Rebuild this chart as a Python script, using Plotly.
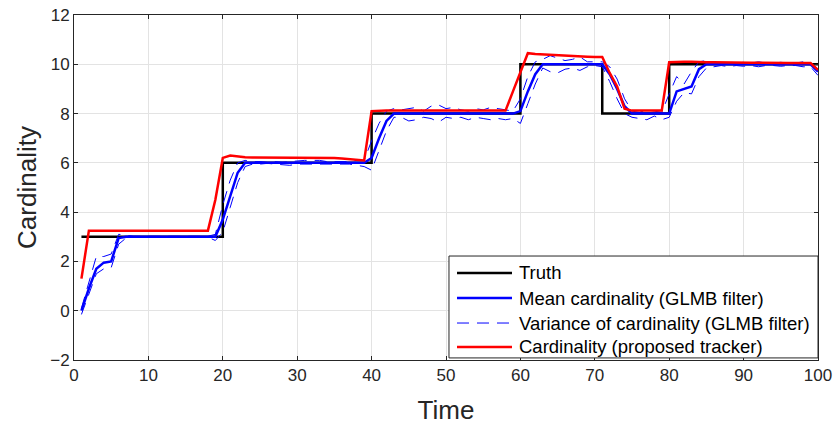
import plotly.graph_objects as go

time = list(range(1, 101))

truth = [3]*19 + [6]*20 + [8]*20 + [10]*11 + [8]*9 + [10]*21

mean_glmb = [
    0.0, 0.9, 1.7, 1.95, 2.0, 2.95, 3.0, 3.0, 3.0, 3.0,
    3.0, 3.0, 3.0, 3.0, 3.0, 3.0, 3.0, 3.0, 3.0, 3.7,
    4.7, 5.6, 6.0, 6.0, 6.0, 6.0, 6.0, 6.0, 6.0, 6.0,
    6.0, 6.0, 6.0, 6.0, 6.0, 6.0, 6.0, 6.0, 6.0, 6.2,
    7.0, 7.7, 8.0, 8.0, 8.0, 8.0, 8.0, 8.0, 8.0, 8.0,
    8.0, 8.0, 8.0, 8.0, 8.0, 8.0, 8.0, 8.0, 8.0, 8.1,
    8.9, 9.6, 10.0, 10.0, 10.0, 10.0, 10.0, 10.0, 10.0, 10.0,
    10.0, 9.6, 9.0, 8.3, 8.0, 8.0, 8.0, 8.0, 8.0, 8.0,
    8.9, 9.0, 9.1, 9.8, 10.0, 10.0, 10.0, 10.0, 10.0, 10.0,
    10.0, 10.0, 10.0, 10.0, 10.0, 10.0, 10.0, 10.0, 10.0, 9.7,
]

var_upper = [
    0.1, 1.1, 2.2, 2.2, 2.3, 3.1, 3.05, 3.02, 3.02, 3.02,
    3.02, 3.02, 3.02, 3.02, 3.02, 3.02, 3.02, 3.02, 3.1, 4.3,
    5.3, 6.0, 6.1, 6.05, 6.05, 6.02, 6.05, 6.02, 6.05, 6.08,
    6.1, 6.1, 6.1, 6.05, 6.05, 6.08, 6.05, 6.1, 6.1, 6.9,
    7.6, 8.1, 8.2, 8.15, 8.2, 8.25, 8.1, 8.3, 8.35, 8.2,
    8.25, 8.15, 8.1, 8.2, 8.15, 8.25, 8.2, 8.15, 8.1, 8.6,
    9.5, 10.1, 10.2, 10.35, 10.25, 10.15, 10.2, 10.3, 10.1, 10.1,
    10.1, 9.9, 9.4, 8.6, 8.1, 8.05, 8.15, 8.1, 8.05, 8.8,
    9.5, 9.2, 9.7, 10.1, 10.15, 10.1, 10.05, 10.1, 10.05, 10.08,
    10.05, 10.1, 10.05, 10.05, 10.08, 10.05, 10.05, 10.1, 10.05, 9.8,
]

var_lower = [
    -0.15, 0.7, 1.5, 1.7, 1.75, 2.7, 2.95, 2.98, 2.98, 2.98,
    2.98, 2.98, 2.98, 2.98, 2.98, 2.98, 2.98, 2.98, 2.85, 3.2,
    4.2, 5.2, 5.85, 5.95, 5.95, 5.98, 5.95, 5.92, 5.9, 5.95,
    5.95, 5.92, 5.95, 5.95, 5.92, 5.95, 5.95, 5.9, 5.85, 5.7,
    6.5, 7.3, 7.85, 7.85, 7.7, 7.75, 7.85, 7.8, 7.65, 7.85,
    7.8, 7.85, 7.75, 7.85, 7.8, 7.75, 7.8, 7.75, 7.8, 7.6,
    8.4, 9.2, 9.85, 9.7, 9.65, 9.8, 9.85, 9.75, 9.9, 9.95,
    9.9, 9.3, 8.6, 8.0, 7.85, 7.8, 7.75, 7.9, 7.75, 7.85,
    8.5, 8.85, 8.8, 9.5, 9.85, 9.9, 9.95, 9.9, 9.95, 9.92,
    9.95, 9.9, 9.95, 9.95, 9.92, 9.95, 9.95, 9.9, 9.9, 9.55,
]

proposed = [
    1.3, 3.25, 3.25, 3.25, 3.25, 3.25, 3.25, 3.25, 3.25, 3.25,
    3.25, 3.25, 3.25, 3.25, 3.25, 3.25, 3.25, 3.25, 4.5, 6.2,
    6.3, 6.25, 6.23, 6.22, 6.22, 6.22, 6.22, 6.22, 6.22, 6.22,
    6.22, 6.21, 6.21, 6.2, 6.2, 6.18, 6.15, 6.12, 6.1, 8.1,
    8.12, 8.12, 8.12, 8.12, 8.12, 8.12, 8.12, 8.12, 8.12, 8.12,
    8.12, 8.12, 8.12, 8.12, 8.12, 8.12, 8.12, 8.12, 8.9, 9.7,
    10.45, 10.42, 10.4, 10.38, 10.36, 10.35, 10.33, 10.32, 10.31, 10.3,
    10.3, 9.65, 9.1, 8.2, 8.12, 8.12, 8.12, 8.12, 8.12, 10.08,
    10.1, 10.1, 10.1, 10.08, 10.08, 10.08, 10.07, 10.07, 10.07, 10.06,
    10.06, 10.06, 10.05, 10.05, 10.05, 10.05, 10.05, 10.05, 10.05, 9.77,
]

legend_labels = [
    "Truth",
    "Mean cardinality (GLMB filter)",
    "Variance of cardinality (GLMB filter)",
    "Cardinality (proposed tracker)",
]

x_ticks = [0, 10, 20, 30, 40, 50, 60, 70, 80, 90, 100]
y_ticks = [-2, 0, 2, 4, 6, 8, 10, 12]

styles = [
    dict(color="#000000", width=2.5),
    dict(color="#0000ff", width=2.5),
    dict(color="#0000ff", width=1, dash="12px,8px"),
    dict(color="#ff0000", width=2.5),
]

fig = go.Figure()
fig.add_trace(go.Scatter(x=time, y=truth, mode="lines", line_shape="hv",
                         name=legend_labels[0], line=styles[0]))
fig.add_trace(go.Scatter(x=time, y=mean_glmb, mode="lines",
                         name=legend_labels[1], line=styles[1]))
fig.add_trace(go.Scatter(x=time, y=var_upper, mode="lines",
                         name=legend_labels[2], legendgroup="var", line=styles[2]))
fig.add_trace(go.Scatter(x=time, y=var_lower, mode="lines",
                         name=legend_labels[2], legendgroup="var", line=styles[2]))
fig.add_trace(go.Scatter(x=time, y=proposed, mode="lines",
                         name=legend_labels[3], line=styles[3]))

# Legend box drawn in paper coordinates (MATLAB-style compact legend)
box_x0, box_x1 = 0.504, 1.0
box_y0, box_y1 = 0.006, 0.3014
row_y = [0.2522, 0.1797, 0.1072, 0.0377]
line_x0, line_x1 = 0.5148, 0.5887
text_x = 0.5955

shapes = [dict(type="rect", xref="paper", yref="paper",
               x0=box_x0, x1=box_x1, y0=box_y0, y1=box_y1,
               line=dict(color="#262626", width=1), fillcolor="white",
               layer="above")]
annotations = []
for lab, st, ry in zip(legend_labels, styles, row_y):
    shapes.append(dict(type="line", xref="paper", yref="paper",
                       x0=line_x0, x1=line_x1, y0=ry, y1=ry,
                       line=st, layer="above"))
    annotations.append(dict(xref="paper", yref="paper", x=text_x, y=ry,
                            xanchor="left", yanchor="middle", showarrow=False,
                            text=lab,
                            font=dict(family="Liberation Sans, Arial",
                                      size=18.5, color="#000000")))

axis_common = dict(
    showline=True, linecolor="#262626", linewidth=1, mirror="ticks",
    ticks="inside", ticklen=4, tickcolor="#262626", automargin=False,
    showgrid=True, gridcolor="#e3e3e3", gridwidth=1, zeroline=False,
    tickfont=dict(family="Liberation Sans, Arial", size=17, color="#262626"),
)

fig.update_layout(
    width=834, height=425,
    margin=dict(l=74, r=16, t=15, b=65),
    paper_bgcolor="white", plot_bgcolor="white",
    font=dict(family="Liberation Sans, Arial", color="#262626"),
    xaxis=dict(range=[0, 100], tickvals=x_ticks,
               title=dict(text="Time", font=dict(size=26, color="#262626"), standoff=17),
               **axis_common),
    yaxis=dict(range=[-2, 12], tickvals=y_ticks,
               title=dict(text="Cardinality", font=dict(size=26, color="#262626"), standoff=6),
               **axis_common),
    showlegend=False,
    shapes=shapes,
    annotations=annotations,
)

fig.write_html("out.html")
